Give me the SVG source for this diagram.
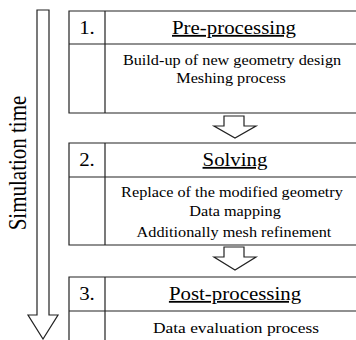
<svg xmlns="http://www.w3.org/2000/svg" width="356" height="340" viewBox="0 0 356 340">
<style>
.ln{stroke:#222;stroke-width:1.2;fill:none}
.arr{stroke:#222;stroke-width:1.2;fill:#fff;stroke-linejoin:miter}
</style>
<rect width="356" height="340" fill="#fff"/>
<g id="time-arrow">
<polygon class="arr" points="37,10 49,10 49,315 58,315 43,339 28,315 37,315"/>
<text x="0" y="0" font-size="21" font-family="Liberation Serif" text-anchor="middle" transform="translate(26,163) rotate(-90) scale(1,1.16)">Simulation time</text>
</g>
<g id="step1" font-family="Liberation Serif" text-anchor="middle">
<path class="ln" d="M356,11 H69 V113 H356 M69,44 H356 M105,11 V113"/>
<text font-size="18" transform="translate(87,34) scale(1.16,1)">1.</text>
<text font-size="18" text-decoration="underline" transform="translate(234,34) scale(1.16,1)">Pre-processing</text>
<text font-size="14" transform="translate(232,65) scale(1.16,1)">Build-up of new geometry design</text>
<text font-size="14" transform="translate(231,83) scale(1.16,1)">Meshing process</text>
</g>
<g id="step2" font-family="Liberation Serif" text-anchor="middle">
<path class="ln" d="M356,143 H69 V245 H356 M69,177 H356 M105,143 V245"/>
<text font-size="18" transform="translate(87,166) scale(1.16,1)">2.</text>
<text font-size="18" text-decoration="underline" transform="translate(235,166) scale(1.16,1)">Solving</text>
<text font-size="14" transform="translate(232,197) scale(1.16,1)">Replace of the modified geometry</text>
<text font-size="14" transform="translate(235,216) scale(1.16,1)">Data mapping</text>
<text font-size="14" transform="translate(234,237) scale(1.16,1)">Additionally mesh refinement</text>
</g>
<g id="step3" font-family="Liberation Serif" text-anchor="middle">
<path class="ln" d="M356,277 H69 V340 M69,311 H356 M105,277 V340"/>
<text font-size="18" transform="translate(87,300) scale(1.16,1)">3.</text>
<text font-size="18" text-decoration="underline" transform="translate(235,300) scale(1.16,1)">Post-processing</text>
<text font-size="15" transform="translate(236,333) scale(1.16,1)">Data evaluation process</text>
</g>
<g id="connectors">
<polygon class="arr" points="224,116 244,116 244,126 256,126 235,138 214,126 224,126"/>
<polygon class="arr" points="224,247 244,247 244,257 256,257 235,270 214,257 224,257"/>
</g>
</svg>
